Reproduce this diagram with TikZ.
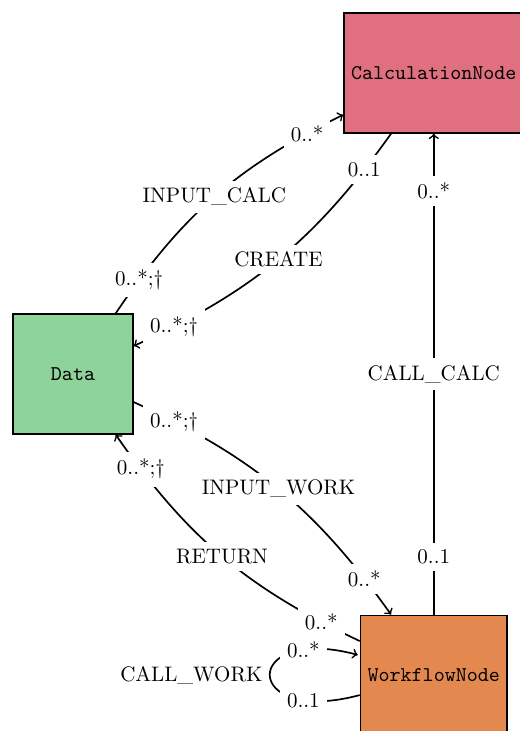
\documentclass[tikz,border=0pt]{standalone}
\usepackage{amsmath}
\usepackage{amssymb}
\usetikzlibrary{arrows}

\definecolor{datagreen}{HTML}{8ED49A}
\definecolor{calcred}{HTML}{E07080}
\definecolor{workorange}{HTML}{E3884F}

\begin{document}
\begin{tikzpicture}[->,thick,node distance=2cm,
        entity/.style={rectangle,draw,minimum size=2cm,font=\ttfamily},
        card/.style={fill=white}]
  \useasboundingbox (0,0) rectangle (8.70,-12.235);

  \node[entity,fill=calcred] (calc_node) at (7.26,-1.222) {CalculationNode};
  \node[entity,fill=workorange] (work_node) [below of=calc_node,node distance=10.08cm] {WorkflowNode};
  \node[entity,fill=datagreen] (data) at (1.222,-6.26) {Data};

  \path (data) edge [bend left=15] node[card,pos=0.12] {0..*;\dag}
                                   node[card] {INPUT\_CALC}
                                   node[card,pos=0.88] {0..*} (calc_node)
        (calc_node) edge [bend left=15] node[card,pos=0.12] {0..1}
                                   node[card] {CREATE}
                                   node[card,pos=0.88] {0..*;\dag} (data)
        (work_node) edge           node[card,pos=0.12] {0..1}
                                   node[card] {CALL\_CALC}
                                   node[card,pos=0.88] {0..*} (calc_node)
        (data) edge [bend left=15] node[card,pos=0.12] {0..*;\dag}
                                   node[card] {INPUT\_WORK}
                                   node[card,pos=0.88] {0..*} (work_node)
        (work_node) edge [bend left=15] node[card,pos=0.12] {0..*}
                                   node[card] {RETURN}
                                   node[card,pos=0.88] {0..*;\dag} (data)
        (work_node) edge [loop left] node[card,pos=0.1] {0..1}
                                   node[left] {CALL\_WORK}
                                   node[card,pos=0.9] {0..*} (work_node);

\end{tikzpicture}
\end{document}
